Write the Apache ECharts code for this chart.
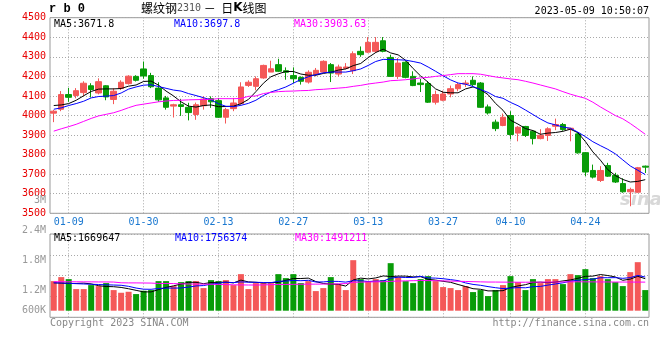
<!DOCTYPE html>
<html><head><meta charset="utf-8">
<script src="https://cdn.jsdelivr.net/npm/echarts/dist/echarts.min.js"></script>
<style>html,body{margin:0;padding:0;background:#fff}#c{width:660px;height:360px}</style>
</head><body><div id="c"></div>
<script>
const dates = ['01-05','01-06','01-09','01-10','01-11','01-12','01-13','01-16','01-17','01-18','01-19','01-20',
 '01-30','01-31','02-01','02-02','02-03','02-06','02-07','02-08','02-09','02-10','02-13','02-14','02-15','02-16','02-17',
 '02-20','02-21','02-22','02-23','02-24','02-27','02-28','03-01','03-02','03-03','03-06','03-07','03-08','03-09','03-10',
 '03-13','03-14','03-15','03-16','03-17','03-20','03-21','03-22','03-23','03-24','03-27','03-28','03-29','03-30','03-31',
 '04-03','04-04','04-06','04-07','04-10','04-11','04-12','04-13','04-14','04-17','04-18','04-19','04-20','04-21',
 '04-24','04-25','04-26','04-27','04-28','05-04','05-05','05-08','05-09'];
const xTickLabels = ['01-09','01-30','02-13','02-27','03-13','03-27','04-10','04-24'];
const volTickLabels = ['600K','1.2M','1.8M','2.4M','3M'];

const opens = [4012,4032,4107,4102,4117,4152,4115,4152,4082,4138,
 4163,4200,4238,4204,4140,4090,4048,4055,4042,4005,
 4050,4086,4076,3991,4035,4061,4154,4149,4192,4222,
 4260,4229,4204,4195,4171,4209,4222,4260,4212,4241,
 4229,4328,4324,4328,4382,4297,4200,4272,4200,4166,
 4163,4068,4078,4110,4137,4161,4180,4166,4044,3966,
 3949,4000,3910,3944,3920,3882,3898,3945,3954,3930,
 3906,3810,3719,3668,3744,3694,3652,3610,3608,3741];
const closes = [4022,4107,4093,4127,4165,4133,4173,4095,4124,4170,
 4201,4180,4202,4147,4080,4042,4055,4046,4015,4055,
 4084,4070,3991,4030,4064,4146,4170,4188,4256,4239,
 4226,4221,4188,4175,4221,4231,4277,4217,4248,4248,
 4316,4311,4374,4374,4328,4200,4268,4195,4153,4158,
 4068,4107,4110,4137,4158,4166,4158,4042,4013,3933,
 3991,3903,3940,3898,3882,3899,3932,3954,3928,3935,
 3809,3711,3685,3719,3690,3660,3610,3622,3733,3736];
const lows = [3966,4022,4070,4088,4100,4092,4108,4078,4058,4130,
 4158,4174,4188,4140,4070,4030,3990,3998,3975,3978,
 4030,4039,3988,3959,4022,4056,4146,4129,4188,4222,
 4222,4183,4166,4158,4163,4200,4217,4171,4200,4236,
 4212,4300,4319,4320,4323,4198,4187,4190,4150,4120,
 4064,4056,4073,4093,4124,4146,4150,4039,4005,3920,
 3945,3878,3868,3890,3852,3878,3870,3925,3922,3868,
 3805,3690,3678,3660,3686,3655,3605,3536,3605,3706];
const highs = [4028,4125,4141,4140,4175,4165,4190,4155,4140,4180,
 4206,4206,4276,4218,4170,4100,4060,4085,4065,4066,
 4099,4098,4090,4039,4090,4170,4180,4200,4260,4280,
 4290,4246,4246,4200,4231,4243,4282,4268,4260,4268,
 4328,4353,4401,4401,4401,4311,4294,4277,4226,4187,
 4175,4127,4127,4153,4166,4180,4200,4171,4056,3979,
 4010,4022,3946,3947,3925,3930,3940,3984,3962,3937,
 3912,3813,3749,3741,3758,3707,3679,3631,3737,3744];

const ma5 = [4051,4054,4061,4078,4101,4123,4135,4136,4136,4138,
 4150,4156,4174,4176,4155,4125,4100,4070,4048,4043,
 4051,4054,4045,4046,4048,4060,4082,4122,4165,4198,
 4213,4225,4225,4212,4206,4206,4215,4221,4232,4238,
 4255,4266,4296,4322,4339,4320,4310,4282,4240,4202,
 4170,4136,4119,4116,4116,4136,4146,4132,4107,4062,
 4027,3976,3956,3933,3923,3904,3910,3913,3919,3930,
 3912,3867,3814,3772,3723,3693,3673,3660,3663,3672];
const ma10 = [4032,4039,4051,4061,4073,4090,4097,4099,4102,4115,
 4135,4146,4155,4157,4148,4139,4130,4125,4112,4102,
 4091,4080,4060,4047,4045,4052,4062,4078,4102,4120,
 4132,4146,4165,4184,4198,4209,4218,4222,4222,4222,
 4229,4238,4256,4276,4287,4286,4285,4283,4276,4268,
 4248,4226,4203,4182,4166,4160,4148,4133,4118,4097,
 4088,4067,4050,4028,4005,3982,3962,3952,3941,3935,
 3915,3892,3866,3846,3827,3804,3773,3742,3720,3698];
const ma30 = [3920,3932,3943,3955,3970,3985,3998,4006,4014,4026,
 4040,4052,4058,4064,4070,4074,4077,4078,4080,4081,
 4082,4083,4086,4086,4086,4087,4098,4100,4112,4118,
 4122,4124,4125,4127,4128,4132,4134,4137,4140,4143,
 4149,4154,4161,4166,4171,4178,4180,4183,4187,4192,
 4195,4200,4204,4209,4214,4214,4214,4211,4204,4197,
 4192,4187,4183,4175,4166,4156,4146,4136,4122,4109,
 4098,4088,4068,4044,4022,4000,3983,3959,3932,3904];

// volumes in thousands of lots
const volumesK = [1543,1751,1647,1127,1127,1335,1283,1439,1075,936,
 988,867,1040,1075,1543,1543,1283,1491,1543,1543,
 1179,1595,1543,1595,1335,1907,1127,1439,1439,1439,
 1907,1699,1907,1439,1543,1023,1179,1751,1387,1075,
 2635,1647,1543,1647,1595,2479,1751,1543,1439,1647,
 1803,1543,1231,1179,1075,1283,971,1075,763,1075,
 1335,1803,1491,1075,1647,1439,1647,1647,1387,1907,
 1855,2167,1699,1803,1647,1491,1283,2011,2531,1075];
const volMa5K = [1456,1440,1420,1420,1439,1397,1304,1262,1252,1214,
 1144,1061,981,981,1103,1214,1297,1387,1481,1481,
 1408,1470,1481,1491,1449,1595,1501,1481,1449,1470,
 1470,1585,1678,1678,1699,1522,1418,1387,1377,1283,
 1605,1699,1657,1709,1813,1782,1803,1803,1761,1772,
 1637,1595,1533,1481,1366,1262,1148,1117,1033,1033,
 1044,1210,1293,1356,1470,1491,1460,1491,1553,1605,
 1689,1793,1803,1886,1834,1761,1585,1647,1793,1670];
const volMa10K = [1456,1445,1430,1410,1395,1380,1365,1350,1338,1326,
 1271,1182,1122,1117,1158,1179,1179,1184,1231,1292,
 1311,1384,1434,1486,1465,1501,1486,1481,1470,1460,
 1533,1543,1579,1564,1585,1496,1501,1533,1527,1491,
 1564,1559,1522,1543,1548,1694,1751,1730,1735,1793,
 1709,1699,1668,1621,1569,1449,1371,1325,1257,1200,
 1153,1179,1205,1195,1252,1267,1335,1392,1455,1538,
 1590,1626,1647,1720,1720,1725,1689,1725,1839,1756];
const volMa30K = [1510,1510,1508,1508,1505,1505,1500,1500,1495,1456,
 1450,1450,1445,1440,1421,1421,1415,1400,1390,1387,
 1387,1380,1370,1360,1350,1345,1340,1340,1345,1359,
 1365,1370,1375,1380,1385,1385,1390,1395,1400,1414,
 1480,1490,1500,1505,1510,1530,1545,1555,1565,1575,
 1570,1565,1555,1545,1535,1525,1515,1505,1495,1494,
 1490,1488,1485,1485,1488,1490,1492,1495,1500,1505,
 1508,1505,1502,1500,1498,1495,1495,1493,1492,1491];

const MONO = "'DejaVu Sans Mono', monospace";
const RED = '#f45858', GREEN = '#089c08';
const GRIDC = '#a8a8a8';
const DOT = [1, 2];
const isTick = (i, v) => xTickLabels.indexOf(v) >= 0;

const kData = dates.map((d, i) => [opens[i], closes[i], lows[i], highs[i]]);
const volData = volumesK.map((v, i) => ({value: v, itemStyle: {color: closes[i] >= opens[i] ? RED : GREEN}}));

const vGrid = {
  silent: true, symbol: ['none', 'none'], animation: false,
  label: {show: false},
  emphasis: {disabled: true},
  lineStyle: {color: GRIDC, type: DOT, width: 1},
  data: xTickLabels.map(d => ({xAxis: d}))
};

function txt(x, y, text, color, align, font) {
  return {type: 'text', x: x, y: y, silent: true, z: 10,
    style: {text: text, fill: color, font: font || ("10px " + MONO),
      align: align || 'left', textAlign: align || 'left', verticalAlign: 'middle', textVerticalAlign: 'middle'}};
}

const chart = echarts.init(document.getElementById('c'), null, {renderer: 'canvas', width: 660, height: 360});
const option = {
  animation: false,
  backgroundColor: '#ffffff',
  grid: [
    {left: 50, right: 11, top: 17.7, height: 195.6, show: true, borderColor: '#999', borderWidth: 1, backgroundColor: 'transparent', outerBoundsMode: 'none'},
    {left: 50, right: 11, top: 234, height: 83.3, show: true, borderColor: '#999', borderWidth: 1, backgroundColor: 'transparent', outerBoundsMode: 'none'},
    {left: 50, right: 11, top: 200, height: 150, show: false, outerBoundsMode: 'none'}
  ],
  xAxis: [
    {type: 'category', gridIndex: 0, data: dates, boundaryGap: true,
     axisLine: {show: false}, axisTick: {show: false},
     axisLabel: {show: true, interval: isTick, color: '#1a78d0', fontFamily: MONO, fontSize: 10, margin: 4},
     splitLine: {show: false}},
    {type: 'category', gridIndex: 1, data: dates, boundaryGap: true,
     axisLine: {show: false}, axisTick: {show: false},
     axisLabel: {show: false},
     splitLine: {show: false}},
    {type: 'value', gridIndex: 2, min: 0, max: 1, show: false}
  ],
  yAxis: [
    {type: 'value', gridIndex: 0, min: 3500, max: 4500, interval: 100,
     axisLine: {show: false}, axisTick: {show: false},
     axisLabel: {color: '#e80000', fontFamily: MONO, fontSize: 10, margin: 4, padding: [0, 0, 3, 0],
       formatter: v => String(v)},
     splitLine: {show: true, lineStyle: {color: GRIDC, type: DOT, width: 1}}},
    {type: 'value', gridIndex: 1, min: -344, max: 4000, show: false},
    {type: 'value', gridIndex: 1, min: 0, max: 4, interval: 1, position: 'left',
     axisLine: {show: false}, axisTick: {show: false}, axisLabel: {show: false},
     splitLine: {show: true, lineStyle: {color: GRIDC, type: DOT, width: 1}}},
    {type: 'value', gridIndex: 2, min: 0, max: 3000, interval: 600, position: 'left',
     axisLine: {show: false}, axisTick: {show: false}, splitLine: {show: false},
     axisLabel: {color: '#999', fontFamily: MONO, fontSize: 10, margin: 4,
       formatter: function (v) {
         const k = Math.round(v / 600) - 1;
         if (k < 0) return '';
         if (k === 0) return '{up|' + volTickLabels[0] + '}';
         return volTickLabels[k];
       },
       rich: {up: {color: '#999', fontFamily: MONO, fontSize: 10, padding: [0, 0, 20, 0]}}}}
  ],
  series: [
    {type: 'candlestick', xAxisIndex: 0, yAxisIndex: 0, data: kData, barWidth: 6, silent: true, z: 2,
     itemStyle: {color: RED, color0: GREEN, borderColor: RED, borderColor0: GREEN, borderWidth: 1},
     markLine: Object.assign({z: 1}, vGrid)},
    {type: 'line', xAxisIndex: 0, yAxisIndex: 0, data: ma5, showSymbol: false, silent: true, z: 3, lineStyle: {color: '#000', width: 1}},
    {type: 'line', xAxisIndex: 0, yAxisIndex: 0, data: ma10, showSymbol: false, silent: true, z: 3, lineStyle: {color: '#0000ff', width: 1}},
    {type: 'line', xAxisIndex: 0, yAxisIndex: 0, data: ma30, showSymbol: false, silent: true, z: 3, lineStyle: {color: '#ff00ff', width: 1}},
    {type: 'bar', xAxisIndex: 1, yAxisIndex: 1, data: volData, barWidth: 6, silent: true, z: 2,
     markLine: Object.assign({z: 1}, vGrid)},
    {type: 'line', xAxisIndex: 1, yAxisIndex: 1, data: volMa5K, showSymbol: false, silent: true, z: 3, lineStyle: {color: '#000', width: 1}},
    {type: 'line', xAxisIndex: 1, yAxisIndex: 1, data: volMa10K, showSymbol: false, silent: true, z: 3, lineStyle: {color: '#0000ff', width: 1}},
    {type: 'line', xAxisIndex: 1, yAxisIndex: 1, data: volMa30K, showSymbol: false, silent: true, z: 3, lineStyle: {color: '#ff00ff', width: 1}}
  ],
  graphic: [
    {type: 'text', x: 620, y: 200, silent: true, z: 1,
     style: {text: 'sina', fill: '#d8d8d8', font: "italic bold 18px 'DejaVu Sans'", align: 'left', textAlign: 'left', verticalAlign: 'middle', textVerticalAlign: 'middle'}},
    txt(49, 9, 'r b 0', '#000', 'left', "bold 12px 'Liberation Mono'"),
    {type: 'text', x: 141, y: 8, silent: true, z: 10,
     style: {text: '{a|螺纹钢}{b|2310}{a| －  日}{k|K}{a|线图}', align: 'left', textAlign: 'left', verticalAlign: 'middle', textVerticalAlign: 'middle',
       rich: {a: {fill: '#000', color: '#000', fontFamily: "'Noto Sans CJK SC'", fontSize: 12},
              b: {fill: '#555', color: '#555', fontFamily: MONO, fontSize: 10},
              k: {fill: '#000', color: '#000', fontFamily: "'DejaVu Sans'", fontSize: 12, fontWeight: 'bold'}}}},
    txt(649, 11, '2023-05-09 10:50:07', '#000', 'right'),
    txt(54, 24, 'MA5:3671.8', '#000'),
    txt(174, 24, 'MA10:3697.8', '#0000ff'),
    txt(294, 24, 'MA30:3903.63', '#ff00ff'),
    txt(54, 238.5, 'MA5:1669647', '#000'),
    txt(175, 238.5, 'MA10:1756374', '#0000ff'),
    txt(295, 238.5, 'MA30:1491211', '#ff00ff'),
    txt(50, 323.5, 'Copyright 2023 SINA.COM', '#888'),
    txt(649, 323.5, 'http://finance.sina.com.cn', '#888', 'right')
  ]
};
chart.setOption(option);
</script>
</body></html>
